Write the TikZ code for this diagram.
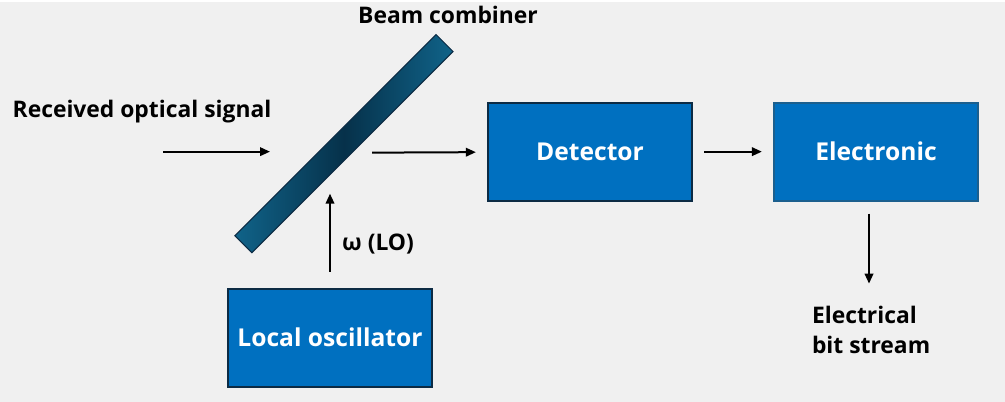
\documentclass[tikz,border=0pt]{standalone}
\usepackage{fontspec}
\setmainfont{Open Sans}
\usepackage{tikz}
\usetikzlibrary{positioning, arrows.meta}
\usepackage{xcolor}
\definecolor{bgcol}{HTML}{F0F0F0}
\definecolor{boxblue}{HTML}{0070C0}
\definecolor{boxedge}{HTML}{0C2B44}
\definecolor{boxedgelight}{HTML}{1B5F8E}
\definecolor{combend}{HTML}{106389}
\definecolor{combmid}{HTML}{06314A}

\begin{document}
\begin{tikzpicture}[x=0.2mm, y=-0.2mm, node distance=57.2mm, on grid,
    font=\bfseries\fontsize{13}{17.6}\selectfont,
    >={Triangle[length=2mm, width=1.7mm]}, line width=0.4mm,
    block/.style={rectangle, fill=boxblue, draw=boxedge, line width=0.45mm,
        minimum width=40.8mm, minimum height=19.6mm, text=white,
        font=\bfseries\fontsize{14}{17}\selectfont},
    combiner/.style={rectangle, draw=boxedge, line width=0.2mm,
        minimum width=56.9mm, minimum height=4.8mm,
        left color=combend, right color=combend, middle color=combmid}]
    \fill[bgcol] (0,0) rectangle (1005,400);

    \node[combiner, rotate=45] (bc) at (344,142) {};
    \node (bclabel) at (448,13) {Beam combiner};
    \node (sig) at (142,110) {Received optical signal};
    \node[block] (det) at (590,150) {Detector};
    \node[block, draw=boxedgelight, right=of det] (elec) {Electronic};
    \node[block] (lo) at (330,336) {Local oscillator};
    \node (lolabel) at (378,242) {ω (LO)};
    \node[align=left, anchor=north west, inner sep=0pt] (bits) at (811,303) {Electrical\\bit stream};

    \coordinate (sigin) at (163,150);
    \coordinate (sigend) at (270,150);
    \coordinate (bcout) at (372,151);
    \coordinate (loend) at (330,192);
    \coordinate (bitstart) at (869,212);
    \coordinate (bitend) at (869,282);

    \draw[->] (sigin) -- (sigend);
    \draw[->, shorten >=2.2mm] (bcout) -- (det);
    \draw[->, shorten <=2.2mm, shorten >=2.2mm] (det) -- (elec);
    \draw[->, shorten <=3.2mm] (lo) -- (loend);
    \draw[->] (bitstart) -- (bitend);
\end{tikzpicture}
\end{document}
